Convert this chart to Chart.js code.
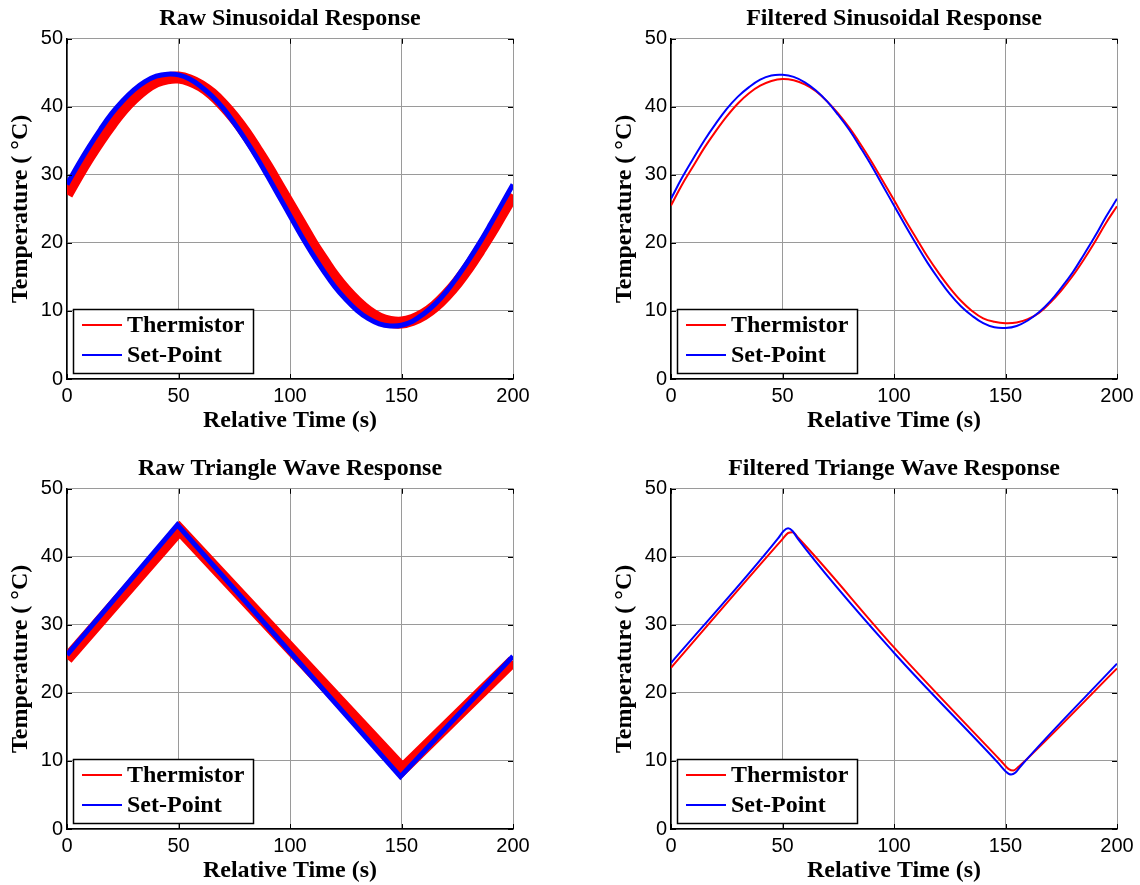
<!DOCTYPE html>
<html>
<head>
<meta charset="utf-8">
<script src="https://cdn.jsdelivr.net/npm/chart.js@4.4.1/dist/chart.umd.min.js"></script>
<style>
  html, body { margin: 0; padding: 0; background: #fff; overflow: hidden; }
  body { width: 1140px; height: 885px; position: relative; }
  canvas { position: absolute; }
</style>
</head>
<body>
<canvas id="senoCrudo" width="540" height="435" style="left:0px;top:0px"></canvas>
<canvas id="senoFiltrado" width="540" height="435" style="left:604px;top:0px"></canvas>
<canvas id="triCrudo" width="540" height="435" style="left:0px;top:450px"></canvas>
<canvas id="triFiltrado" width="540" height="435" style="left:604px;top:450px"></canvas>
<script>
// valores
const tiempoSeno = [0, 5, 10, 15, 20, 25, 30, 35, 40, 45, 50, 55, 60, 65, 70, 75, 80, 85, 90, 95, 100,
  105, 110, 115, 120, 125, 130, 135, 140, 145, 150, 155, 160, 165, 170, 175, 180, 185, 190, 195, 200];

const termistorSenoCrudo = [27.1, 30.0, 32.7, 35.2, 37.5, 39.6, 41.3, 42.7, 43.7, 44.2, 44.3, 43.9, 43.1, 41.9, 40.3,
  38.4, 36.2, 33.7, 31.1, 28.3, 25.5, 22.7, 19.9, 17.4, 15.0, 13.0, 11.3, 9.9, 8.9, 8.4, 8.3, 8.7, 9.5, 10.7, 12.3,
  14.2, 16.4, 18.9, 21.5, 24.3, 27.1];
const consignaSenoCruda = [28.6, 31.5, 34.2, 36.7, 39.0, 40.9, 42.5, 43.7, 44.5, 44.8, 44.7, 44.1, 43.0, 41.6, 39.8,
  37.6, 35.2, 32.6, 29.8, 26.9, 24.0, 21.1, 18.4, 15.9, 13.6, 11.7, 10.1, 8.9, 8.1, 7.8, 7.9, 8.5, 9.6, 11.0, 12.8,
  15.0, 17.4, 20.0, 22.8, 25.7, 28.6];

const termistorSenoFiltrado = [25.5, 28.6, 31.3, 34.0, 36.4, 38.6, 40.5, 42.0, 43.1, 43.8, 44.1, 43.9, 43.3, 42.3, 40.8,
  39.0, 36.9, 34.5, 31.9, 29.1, 26.3, 23.4, 20.7, 18.0, 15.6, 13.4, 11.5, 10.0, 8.9, 8.4, 8.2, 8.3, 8.8, 9.7, 11.2,
  13.0, 15.1, 17.5, 20.1, 22.9, 25.4];
const consignaSenoFiltrada = [26.5, 29.6, 32.4, 35.1, 37.5, 39.7, 41.5, 42.9, 44.0, 44.6, 44.7, 44.4, 43.6, 42.4, 40.8,
  38.8, 36.6, 34.0, 31.3, 28.4, 25.5, 22.6, 19.8, 17.1, 14.7, 12.5, 10.7, 9.3, 8.2, 7.6, 7.5, 7.8, 8.6, 9.8, 11.4,
  13.4, 15.6, 18.2, 20.9, 23.8, 26.5];

const tiempoTriCrudoTerm = [0, 50.5, 150.5, 200];
const termistorTriCrudo = [25.0, 44.0, 8.8, 24.7];
const tiempoTriCrudoCons = [0, 49.5, 149.5, 200];
const consignaTriCruda = [25.6, 44.7, 7.7, 25.4];

const tiempoTriFiltTerm = [0, 50, 52.5, 54.5, 57, 100, 148, 151.5, 153.5, 156, 160, 200];
const termistorTriFiltrado = [23.7, 42.6, 43.5, 43.6, 42.8, 26.7, 10.0, 8.8, 8.6, 9.2, 10.4, 23.6];
const tiempoTriFiltCons = [0, 48, 50.5, 52.5, 54.5, 57, 100, 147, 150, 152.5, 154.5, 157, 200];
const consignaTriFiltrada = [24.4, 42.7, 43.8, 44.2, 43.8, 42.6, 25.9, 9.6, 8.5, 8.0, 8.3, 9.3, 24.3];

const ticksX = [0, 50, 100, 150, 200];
const ticksY = [0, 10, 20, 30, 40, 50];

const serif = '"Times New Roman", "Liberation Serif", serif';
const sans = 'Arial, "Liberation Sans", sans-serif';

function puntos(tiempos, valores) {
  return tiempos.map((t, i) => ({ x: t, y: valores[i] }));
}

// marcas de eje hacia dentro, estilo matlab
const marcasInternas = {
  id: 'marcasInternas',
  afterDraw(chart) {
    const { ctx, chartArea: a, scales: { x, y } } = chart;
    ctx.save();
    ctx.strokeStyle = '#000';
    ctx.lineWidth = 1;
    ctx.beginPath();
    ticksX.forEach(v => {
      const px = Math.round(x.getPixelForValue(v)) + 0.5;
      ctx.moveTo(px, a.bottom); ctx.lineTo(px, a.bottom - 5);
      ctx.moveTo(px, a.top); ctx.lineTo(px, a.top + 5);
    });
    ticksY.forEach(v => {
      const py = Math.round(y.getPixelForValue(v)) + 0.5;
      ctx.moveTo(a.left, py); ctx.lineTo(a.left + 5, py);
      ctx.moveTo(a.right, py); ctx.lineTo(a.right - 5, py);
    });
    ctx.stroke();
    ctx.restore();
  }
};

// leyenda abajo a la izquierda dentro del area
const leyendaCaja = {
  id: 'leyendaCaja',
  afterDraw(chart) {
    const { ctx, chartArea: a } = chart;
    const x0 = a.left + 6, y0 = a.bottom - 70, w = 180, h = 64;
    ctx.save();
    ctx.fillStyle = '#fff';
    ctx.fillRect(x0, y0, w, h);
    ctx.strokeStyle = '#000';
    ctx.lineWidth = 1.5;
    ctx.strokeRect(x0 + 0.5, y0 + 0.5, w, h);
    ctx.font = 'bold 24px ' + serif;
    ctx.textBaseline = 'middle';
    chart.data.datasets.forEach((ds, i) => {
      const ly = y0 + 16 + i * 30;
      ctx.strokeStyle = ds.borderColor;
      ctx.lineWidth = 2;
      ctx.beginPath();
      ctx.moveTo(x0 + 9, ly);
      ctx.lineTo(x0 + 49, ly);
      ctx.stroke();
      ctx.fillStyle = '#000';
      ctx.fillText(ds.label, x0 + 54, ly + 1);
    });
    ctx.restore();
  }
};

function crearGrafico(id, titulo, datos) {
  const ctx = document.getElementById(id).getContext('2d');
  return new Chart(ctx, {
    type: 'line',
    data: {
      datasets: [{
        label: 'Thermistor',
        data: datos.termistor,
        borderColor: '#ff0000',
        borderWidth: datos.anchoTerm,
        pointRadius: 0,
        tension: datos.tension,
        cubicInterpolationMode: datos.modo,
        order: 1
      }, {
        label: 'Set-Point',
        data: datos.consigna,
        borderColor: '#0000ff',
        borderWidth: datos.anchoCons,
        pointRadius: 0,
        tension: datos.tension,
        cubicInterpolationMode: datos.modo,
        order: 0
      }]
    },
    options: {
      responsive: false,
      animation: false,
      devicePixelRatio: 1,
      layout: { padding: { left: 0, right: 27, top: 0, bottom: 0 } },
      plugins: {
        legend: { display: false },
        tooltip: { enabled: false },
        title: {
          display: true,
          text: titulo,
          fullSize: false,
          color: '#000',
          font: { family: serif, size: 24, weight: 'bold' },
          padding: { top: 4, bottom: 6 }
        }
      },
      scales: {
        x: {
          type: 'linear',
          min: 0,
          max: 200,
          afterFit: s => { s.height = 56; },
          afterBuildTicks: s => { s.ticks = ticksX.map(v => ({ value: v })); },
          ticks: { color: '#000', font: { family: sans, size: 20 }, padding: 5, maxRotation: 0 },
          grid: { color: '#9a9a9a', drawTicks: false },
          border: { color: '#000', width: 1.5 },
          title: {
            display: true,
            text: 'Relative Time (s)',
            color: '#000',
            font: { family: serif, size: 24, weight: 'bold' },
            padding: { top: 0, bottom: 0 }
          }
        },
        y: {
          min: 0,
          max: 50,
          afterFit: s => { s.width = 67; },
          afterBuildTicks: s => { s.ticks = ticksY.map(v => ({ value: v })); },
          ticks: { color: '#000', font: { family: sans, size: 20 }, padding: 4 },
          grid: { color: '#9a9a9a', drawTicks: false },
          border: { color: '#000', width: 1.5 },
          title: {
            display: true,
            text: 'Temperature ( °C)',
            color: '#000',
            font: { family: serif, size: 24, weight: 'bold' },
            padding: { top: 6, bottom: 0 }
          }
        }
      }
    },
    plugins: [marcasInternas, leyendaCaja]
  });
}

document.addEventListener('DOMContentLoaded', () => {
  crearGrafico('senoCrudo', 'Raw Sinusoidal Response', {
    termistor: puntos(tiempoSeno, termistorSenoCrudo),
    consigna: puntos(tiempoSeno, consignaSenoCruda),
    anchoTerm: 12, anchoCons: 5, tension: 0.4, modo: 'default'
  });
  crearGrafico('senoFiltrado', 'Filtered Sinusoidal Response', {
    termistor: puntos(tiempoSeno, termistorSenoFiltrado),
    consigna: puntos(tiempoSeno, consignaSenoFiltrada),
    anchoTerm: 2, anchoCons: 2, tension: 0.4, modo: 'default'
  });
  crearGrafico('triCrudo', 'Raw Triangle Wave Response', {
    termistor: puntos(tiempoTriCrudoTerm, termistorTriCrudo),
    consigna: puntos(tiempoTriCrudoCons, consignaTriCruda),
    anchoTerm: 12, anchoCons: 5, tension: 0, modo: 'default'
  });
  crearGrafico('triFiltrado', 'Filtered Triange Wave Response', {
    termistor: puntos(tiempoTriFiltTerm, termistorTriFiltrado),
    consigna: puntos(tiempoTriFiltCons, consignaTriFiltrada),
    anchoTerm: 2, anchoCons: 2, tension: 0.4, modo: 'monotone'
  });
});
</script>
</body>
</html>
